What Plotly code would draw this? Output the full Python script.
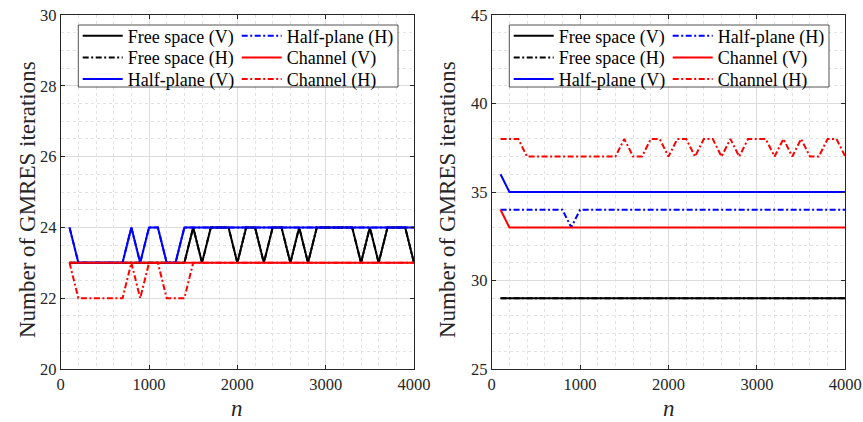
import plotly.graph_objects as go

W, H = 863, 422

# ---------------- data ----------------
n_vals = [100, 200, 300, 400, 500, 600, 700, 800, 900, 1000,
          1100, 1200, 1300, 1400, 1500, 1600, 1700, 1800, 1900, 2000,
          2100, 2200, 2300, 2400, 2500, 2600, 2700, 2800, 2900, 3000,
          3100, 3200, 3300, 3400, 3500, 3600, 3700, 3800, 3900, 4000]

series_names = ["Free space (V)", "Free space (H)", "Half-plane (V)",
                "Half-plane (H)", "Channel (V)", "Channel (H)"]

# left panel
left_free_v = [23, 23, 23, 23, 23, 23, 23, 23, 23, 23,
               23, 23, 23, 23, 24, 23, 24, 24, 24, 23,
               24, 24, 23, 24, 24, 23, 24, 23, 24, 24,
               24, 24, 24, 23, 24, 23, 24, 24, 24, 23]
left_free_h = [23, 23, 23, 23, 23, 23, 23, 23, 23, 23,
               23, 23, 23, 23, 24, 23, 24, 24, 24, 23,
               24, 24, 23, 24, 24, 23, 24, 23, 24, 24,
               24, 24, 24, 23, 24, 23, 24, 24, 24, 23]
left_half_v = [24, 23, 23, 23, 23, 23, 23, 24, 23, 24,
               24, 23, 23, 24, 24, 24, 24, 24, 24, 24,
               24, 24, 24, 24, 24, 24, 24, 24, 24, 24,
               24, 24, 24, 24, 24, 24, 24, 24, 24, 24]
left_half_h = [24, 23, 23, 23, 23, 23, 23, 24, 23, 24,
               24, 23, 23, 24, 24, 24, 24, 24, 24, 24,
               24, 24, 24, 24, 24, 24, 24, 24, 24, 24,
               24, 24, 24, 24, 24, 24, 24, 24, 24, 24]
left_chan_v = [23, 23, 23, 23, 23, 23, 23, 23, 23, 23,
               23, 23, 23, 23, 23, 23, 23, 23, 23, 23,
               23, 23, 23, 23, 23, 23, 23, 23, 23, 23,
               23, 23, 23, 23, 23, 23, 23, 23, 23, 23]
left_chan_h = [23, 22, 22, 22, 22, 22, 22, 23, 22, 23,
               23, 22, 22, 22, 23, 23, 23, 23, 23, 23,
               23, 23, 23, 23, 23, 23, 23, 23, 23, 23,
               23, 23, 23, 23, 23, 23, 23, 23, 23, 23]

# right panel
right_free_v = [29, 29, 29, 29, 29, 29, 29, 29, 29, 29,
                29, 29, 29, 29, 29, 29, 29, 29, 29, 29,
                29, 29, 29, 29, 29, 29, 29, 29, 29, 29,
                29, 29, 29, 29, 29, 29, 29, 29, 29, 29]
right_free_h = [29, 29, 29, 29, 29, 29, 29, 29, 29, 29,
                29, 29, 29, 29, 29, 29, 29, 29, 29, 29,
                29, 29, 29, 29, 29, 29, 29, 29, 29, 29,
                29, 29, 29, 29, 29, 29, 29, 29, 29, 29]
right_half_v = [36, 35, 35, 35, 35, 35, 35, 35, 35, 35,
                35, 35, 35, 35, 35, 35, 35, 35, 35, 35,
                35, 35, 35, 35, 35, 35, 35, 35, 35, 35,
                35, 35, 35, 35, 35, 35, 35, 35, 35, 35]
right_half_h = [34, 34, 34, 34, 34, 34, 34, 34, 33, 34,
                34, 34, 34, 34, 34, 34, 34, 34, 34, 34,
                34, 34, 34, 34, 34, 34, 34, 34, 34, 34,
                34, 34, 34, 34, 34, 34, 34, 34, 34, 34]
right_chan_v = [34, 33, 33, 33, 33, 33, 33, 33, 33, 33,
                33, 33, 33, 33, 33, 33, 33, 33, 33, 33,
                33, 33, 33, 33, 33, 33, 33, 33, 33, 33,
                33, 33, 33, 33, 33, 33, 33, 33, 33, 33]
right_chan_h = [38, 38, 38, 37, 37, 37, 37, 37, 37, 37,
                37, 37, 37, 37, 38, 37, 37, 38, 38, 37,
                38, 38, 37, 38, 38, 37, 38, 37, 38, 38,
                38, 37, 38, 37, 38, 37, 37, 38, 38, 37]

x_ticks = [0, 1000, 2000, 3000, 4000]
left_y_ticks = [20, 22, 24, 26, 28, 30]
right_y_ticks = [25, 30, 35, 40, 45]

# ---------------- styling ----------------
FONT = "Liberation Serif"
colors = ["#000000", "#000000", "#0000ff", "#0000ff", "#ff0000", "#ff0000"]
DASHDOT = "6px,2.5px,2px,2.5px"
dashes = ["solid", DASHDOT, "solid", DASHDOT, "solid", DASHDOT]

left_data = [left_free_v, left_free_h, left_half_v, left_half_h, left_chan_v, left_chan_h]
right_data = [right_free_v, right_free_h, right_half_v, right_half_h, right_chan_v, right_chan_h]

# panel pixel geometry
panels = [
    dict(x0=60.7, x1=414.0, xa="x", ya="y", data=left_data),
    dict(x0=491.7, x1=845.3, xa="x2", ya="y2", data=right_data),
]
Y_TOP, Y_BOT = 15.0, 369.0

fig = go.Figure()
legends = {}
k = 0
for p in panels:
    for i, (name, ys) in enumerate(zip(series_names, p["data"])):
        k += 1
        lname = "legend" if k == 1 else f"legend{k}"
        fig.add_trace(go.Scatter(
            x=n_vals, y=ys, mode="lines", name=name,
            line=dict(color=colors[i], width=2, dash=dashes[i]),
            xaxis=p["xa"], yaxis=p["ya"], legend=lname, showlegend=True,
        ))
        col = i // 3
        row = i % 3
        sx = p["x0"] + 22.0 - 5 + col * 159.0
        sy = 36.0 + row * 21.7
        legends[lname] = dict(
            x=sx / W, y=1 - sy / H, xanchor="left", yanchor="middle",
            bgcolor="rgba(0,0,0,0)", borderwidth=0, itemwidth=40,
            font=dict(family=FONT, size=18, color="#000000"),
        )

axis_common = dict(
    showline=True, linecolor="#262626", linewidth=1, mirror="ticks",
    ticks="inside", ticklen=4, tickcolor="#262626", tickwidth=1,
    showgrid=True, gridcolor="#dcdcdc", gridwidth=1, zeroline=False,
    tickfont=dict(family=FONT, size=16.5, color="#262626"),
    automargin=False,
)

ydom = [1 - Y_BOT / H, 1 - Y_TOP / H]
layout = dict(
    width=W, height=H,
    margin=dict(l=0, r=0, t=0, b=0),
    paper_bgcolor="white", plot_bgcolor="white",
    xaxis=dict(domain=[60.7 / W, 414.0 / W], range=[0, 4000], tickvals=x_ticks,
               anchor="y",
               minor=dict(dtick=200, showgrid=True, gridcolor="#e3e3e3", griddash="dot"),
               **axis_common),
    yaxis=dict(domain=ydom, range=[20, 30], tickvals=left_y_ticks, anchor="x",
               minor=dict(dtick=0.5, showgrid=True, gridcolor="#e3e3e3", griddash="dot"),
               **axis_common),
    xaxis2=dict(domain=[491.7 / W, 845.3 / W], range=[0, 4000], tickvals=x_ticks,
                anchor="y2",
                minor=dict(dtick=200, showgrid=True, gridcolor="#e3e3e3", griddash="dot"),
                **axis_common),
    yaxis2=dict(domain=ydom, range=[25, 45], tickvals=right_y_ticks, anchor="x2",
                minor=dict(dtick=1, showgrid=True, gridcolor="#e3e3e3", griddash="dot"),
                **axis_common),
    showlegend=True,
)
layout.update(legends)
fig.update_layout(**layout)

# legend boxes
for p in panels:
    fig.add_shape(type="rect", xref="paper", yref="paper",
                  x0=(p["x0"] + 17.6) / W, x1=(p["x0"] + 337.3) / W,
                  y0=1 - 87.0 / H, y1=1 - 25.0 / H,
                  fillcolor="white", line=dict(color="#262626", width=0.8),
                  layer="above")

# axis titles
for p, yt in zip(panels, [27.0, 447.0]):
    fig.add_annotation(text="Number of GMRES iterations", xref="paper", yref="paper",
                       x=yt / W, y=1 - 200.0 / H, xanchor="center", yanchor="middle",
                       textangle=-90, showarrow=False,
                       font=dict(family=FONT, size=23, color="#262626"))
    fig.add_annotation(text="<i>n</i>", xref="paper", yref="paper",
                       x=(p["x0"] + p["x1"]) / 2 / W, y=1 - 408.0 / H,
                       xanchor="center", yanchor="middle", showarrow=False,
                       font=dict(family=FONT, size=23, color="#262626"))

fig.write_html(
    "out.html",
    config={"displayModeBar": False},
    post_script="document.body.style.margin='0px';document.body.style.padding='0px';"
                "document.body.style.overflow='hidden';",
)
